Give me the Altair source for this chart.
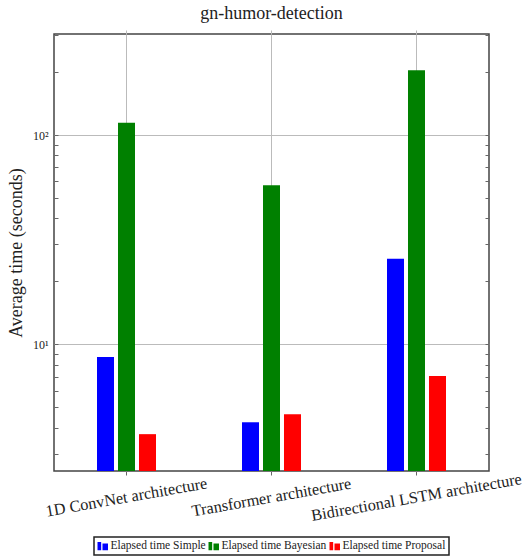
import altair as alt
import pandas as pd

# Average training time per architecture and search strategy (seconds)
architectures = [
    "1D ConvNet architecture",
    "Transformer architecture",
    "Bidirectional LSTM architecture",
]
series = ["Elapsed time Simple", "Elapsed time Bayesian", "Elapsed time Proposal"]
simple_times = [8.7, 4.24, 25.6]
bayesian_times = [114.5, 57.5, 204.0]
proposal_times = [3.72, 4.63, 7.06]
series_colors = ["#0000ff", "#008000", "#ff0000"]

y_limits = [2.48, 304]
major_ticks = [10, 100]
minor_ticks = [3, 4, 5, 6, 7, 8, 9, 20, 30, 40, 50, 60, 70, 80, 90, 200, 300]

rows = []
for name, values in zip(series, [simple_times, bayesian_times, proposal_times]):
    for arch, v in zip(architectures, values):
        rows.append({"architecture": arch, "series": name, "seconds": v,
                     "base": y_limits[0]})
df = pd.DataFrame(rows)

FONT = "Liberation Serif"
TEXT = "#222222"
GRID = "#bbbbbb"
all_ticks = sorted(major_ticks + minor_ticks)

x_scale = alt.Scale(paddingInner=0, paddingOuter=0)
y_scale = alt.Scale(type="log", domain=y_limits, nice=False)

# two small bars, like the legend image of a grouped bar plot
bar_icon = "M-1,-0.8H-0.3V0.8H-1Z M-0.05,-0.5H1V0.8H-0.05Z"

bars = alt.Chart(df).mark_bar(clip=True).encode(
    x=alt.X(
        "architecture:N",
        sort=architectures,
        scale=x_scale,
        axis=alt.Axis(
            title=None,
            orient="bottom",
            labelAngle=350,
            labelAlign="center",
            labelBaseline="middle",
            labelPadding=22,
            labelFont=FONT,
            labelFontSize=16.3,
            labelColor=TEXT,
            labelLimit=400,
            tickSize=4,
            tickColor="#666666",
            grid=True,
            gridColor=GRID,
            domain=False,
        ),
    ),
    xOffset=alt.XOffset(
        "series:N",
        sort=series,
        scale=alt.Scale(range=[43, 102], paddingInner=0.19, paddingOuter=0),
    ),
    y=alt.Y(
        "seconds:Q",
        scale=y_scale,
        axis=alt.Axis(
            title="Average time (seconds)",
            titleFont=FONT,
            titleFontSize=18,
            titleFontWeight="normal",
            titleColor=TEXT,
            titleX=-42,
            titleBaseline="middle",
            orient="left",
            values=all_ticks,
            labelExpr="datum.value == 10 ? '10¹' : (datum.value == 100 ? '10²' : '')",
            labelFont=FONT,
            labelFontSize=12,
            labelColor=TEXT,
            labelPadding=6,
            labelOverlap=False,
            offset=-4,
            tickSize=4,
            tickColor="#666666",
            domain=False,
            grid=True,
            gridColor=GRID,
            gridOpacity={
                "condition": {"test": "datum.value == 10 || datum.value == 100", "value": 1},
                "value": 0,
            },
        ),
    ),
    y2="base:Q",
    color=alt.Color(
        "series:N",
        sort=series,
        scale=alt.Scale(domain=series, range=series_colors),
        legend=alt.Legend(
            title=None,
            orient="none",
            legendX=40,
            legendY=503,
            direction="horizontal",
            symbolType=bar_icon,
            symbolSize=110,
            symbolStrokeWidth=0,
            labelFont=FONT,
            labelFontSize=11.5,
            labelColor=TEXT,
            labelOffset=2,
            labelLimit=400,
            columnPadding=2,
            padding=3,
            strokeColor="#222222",
        ),
    ),
)

# top and right tick marks of the frame
frame_ticks = alt.Chart(df).mark_bar(opacity=0).encode(
    x=alt.X(
        "architecture:N",
        sort=architectures,
        axis=alt.Axis(
            title=None,
            orient="top",
            labels=False,
            tickSize=4,
            tickColor=GRID,
            grid=False,
            domain=False,
        ),
    ),
    y=alt.Y(
        "seconds:Q",
        axis=alt.Axis(
            title=None,
            orient="right",
            values=all_ticks,
            labels=False,
            offset=-4,
            tickSize=4,
            tickColor="#666666",
            grid=False,
            domain=False,
        ),
    ),
    y2="base:Q",
)

chart = (
    alt.layer(bars, frame_ticks)
    .resolve_axis(x="independent", y="independent")
    .properties(
        width=435,
        height=437,
        autosize=alt.AutoSizeParams(type="none"),
        padding={"left": 54, "top": 34, "right": 37, "bottom": 85},
        title=alt.TitleParams(
            "gn-humor-detection",
            font=FONT,
            fontSize=18,
            fontWeight="normal",
            color=TEXT,
            anchor="middle",
            offset=6,
        ),
    )
    .configure_view(stroke="#444444", strokeWidth=1.5)
    .configure_legend(strokeWidth=1.5)
)

chart.save("out.html", embed_options={"renderer": "svg", "actions": False})
